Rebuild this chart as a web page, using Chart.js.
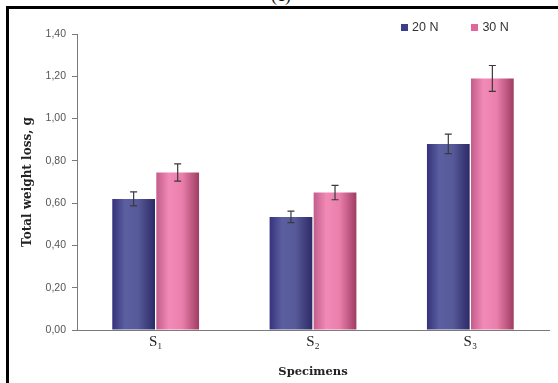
<!DOCTYPE html>
<html>
<head>
<meta charset="utf-8">
<script src="https://cdn.jsdelivr.net/npm/chart.js@4/dist/chart.umd.min.js"></script>
<style>
  html, body { margin: 0; padding: 0; background: #fff; }
  body { width: 558px; height: 383px; position: relative; overflow: hidden; }
  #frame {
    position: absolute; left: 6px; top: 6px; width: 560px; height: 390px;
    border-left: 3px solid #000; border-top: 3px solid #000;
  }
  #caption {
    position: absolute; left: 271px; top: -15px;
    font: 18px "Liberation Serif", serif; color: #111;
  }
  #chartBox { position: absolute; left: 0; top: 0; width: 558px; height: 383px; }
  #legend {
    position: absolute; top: 20px; left: 401px;
    display: flex; gap: 33px;
    font: 12.5px "Liberation Sans", Arial, sans-serif; color: #333;
  }
  #legend span.item { display: flex; align-items: center; }
  #legend span.box { width: 7px; height: 7px; margin-right: 4px; display: inline-block; }
</style>
</head>
<body>
<div id="caption">(c)</div>
<div id="frame"></div>
<div id="chartBox"><canvas id="lossChart" width="558" height="383"></canvas></div>
<div id="legend"></div>
<script>
// ---------- DATA ----------
const specimens = ["S\u2081", "S\u2082", "S\u2083"];
const loss20N = [0.62, 0.535, 0.88];
const loss30N = [0.745, 0.65, 1.19];
const err20N = [0.033, 0.027, 0.046];
const err30N = [0.041, 0.034, 0.061];
const yTicks = [0, 0.2, 0.4, 0.6, 0.8, 1.0, 1.2, 1.4];

// ---------- SETTINGS ----------
const CAT_PCT = 0.56;
const BLUE = ["#34307a", "#5b5fa0", "#575a99", "#2c2866"];
const PINK = ["#c05a88", "#f28ab7", "#ea7fac", "#9c3a60"];

// cylinder-like shading across each bar
function barShade(stops) {
  return (ctx) => {
    const chart = ctx.chart;
    if (!chart.chartArea || ctx.type !== "data") return stops[1];
    const x = chart.scales.x;
    const w = (x.width / specimens.length) * CAT_PCT / 2;
    const left = x.getPixelForValue(ctx.dataIndex) - w + ctx.datasetIndex * w;
    const g = chart.ctx.createLinearGradient(left, 0, left + w, 0);
    g.addColorStop(0, stops[0]);
    g.addColorStop(0.3, stops[1]);
    g.addColorStop(0.6, stops[2]);
    g.addColorStop(1, stops[3]);
    return g;
  };
}

// ---------- ERROR BARS ----------
const errorBars = {
  id: "errorBars",
  afterDatasetsDraw(chart) {
    const { ctx } = chart;
    const y = chart.scales.y;
    ctx.save();
    ctx.strokeStyle = "#3a3a3a";
    ctx.lineWidth = 1.2;
    chart.data.datasets.forEach((ds, di) => {
      const meta = chart.getDatasetMeta(di);
      meta.data.forEach((bar, i) => {
        const v = ds.data[i];
        const e = ds.errors[i];
        const top = y.getPixelForValue(v + e);
        const bot = y.getPixelForValue(v - e);
        ctx.beginPath();
        ctx.moveTo(bar.x, top);
        ctx.lineTo(bar.x, bot);
        ctx.moveTo(bar.x - 3.5, top);
        ctx.lineTo(bar.x + 3.5, top);
        ctx.moveTo(bar.x - 3.5, bot);
        ctx.lineTo(bar.x + 3.5, bot);
        ctx.stroke();
      });
    });
    ctx.restore();
  },
};

// ---------- CREATE CHART ----------
const lossChart = new Chart(document.getElementById("lossChart"), {
  type: "bar",
  data: {
    labels: specimens,
    datasets: [
      {
        label: "20 N",
        data: loss20N,
        errors: err20N,
        backgroundColor: barShade(BLUE),
        legendColor: "#3c3d8c",
        categoryPercentage: CAT_PCT,
        barPercentage: 0.97,
      },
      {
        label: "30 N",
        data: loss30N,
        errors: err30N,
        backgroundColor: barShade(PINK),
        legendColor: "#e0669b",
        categoryPercentage: CAT_PCT,
        barPercentage: 0.97,
      },
    ],
  },
  options: {
    responsive: false,
    animation: false,
    layout: { padding: { top: 34, right: 9, left: 0, bottom: 0 } },
    plugins: {
      legend: { display: false },
      tooltip: { enabled: false },
    },
    scales: {
      x: {
        afterFit(scale) {
          scale.height = 53;
        },
        grid: { display: false, drawTicks: false },
        border: { display: true, color: "#7a7a7a", width: 1 },
        ticks: {
          padding: 3,
          color: "#222",
          font: { family: "'Liberation Serif', serif", size: 15 },
        },
        title: {
          display: true,
          text: "Specimens",
          color: "#222",
          padding: { top: 10, bottom: 4 },
          font: { family: "'DejaVu Serif', serif", size: 11.5, weight: "bold" },
        },
      },
      y: {
        min: 0,
        max: 1.4,
        afterFit(scale) {
          scale.width = 77;
        },
        afterBuildTicks(scale) {
          scale.ticks = yTicks.map((v) => ({ value: v }));
        },
        grid: {
          drawOnChartArea: false,
          drawTicks: true,
          tickLength: 5,
          color: "#7a7a7a",
        },
        border: { display: true, color: "#7a7a7a", width: 1 },
        ticks: {
          padding: 6,
          color: "#555",
          font: { family: "'Liberation Sans', Arial, sans-serif", size: 10.5 },
          callback: (v) => Number(v).toFixed(2).replace(".", ","),
        },
        title: {
          display: true,
          text: "Total weight loss, g",
          color: "#222",
          padding: { top: 21, bottom: 0 },
          font: { family: "'DejaVu Serif', serif", size: 12, weight: "bold" },
        },
      },
    },
  },
  plugins: [errorBars],
});

// ---------- LEGEND ----------
const legendEl = document.getElementById("legend");
lossChart.data.datasets.forEach((ds) => {
  const item = document.createElement("span");
  item.className = "item";
  const box = document.createElement("span");
  box.className = "box";
  box.style.background = ds.legendColor;
  item.appendChild(box);
  item.appendChild(document.createTextNode(ds.label));
  legendEl.appendChild(item);
});
</script>
</body>
</html>
